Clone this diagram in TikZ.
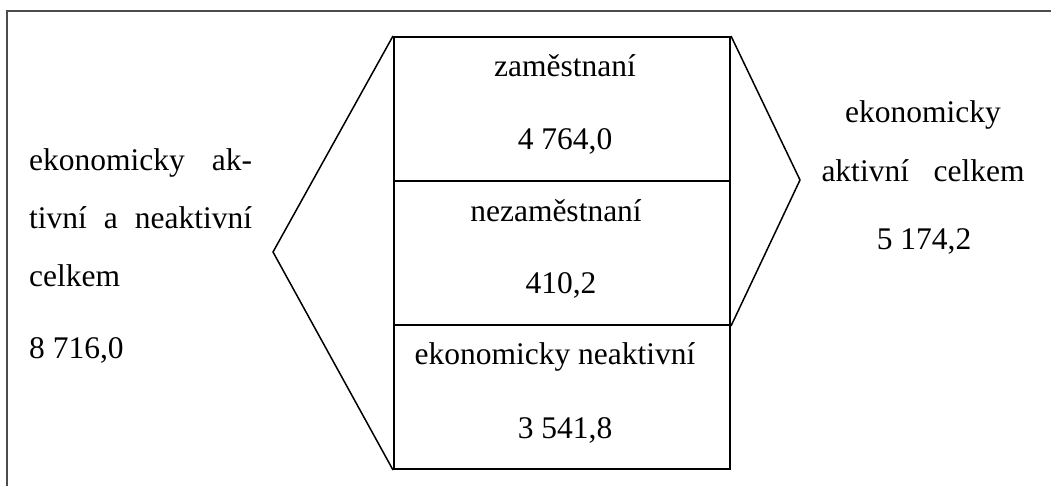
\documentclass[tikz,border=0pt]{standalone}
\usepackage{fontspec}
\setmainfont{Liberation Serif}
\begin{document}
\begin{tikzpicture}[x=1pt, y=-1pt,
		every node/.style={font=\fontsize{31.5}{38}\selectfont, inner sep=0pt},
		rowbox/.style={draw, line width=2pt, minimum width=336pt, minimum height=144pt, anchor=north west}]
			\useasboundingbox (0,0) rectangle (1051,486);
			\draw[line width=1.5pt, black!70] (1051,11) -- (7,11) -- (7,486);
			\foreach \name/\y in {zam/36, nez/180, neakt/324} \node[rowbox] (\name) at (393,\y) {};
			\node[anchor=base] (zamtxt) at (565,77) {zaměstnaní};
			\node[anchor=base] (zamval) at (565,150) {4 764,0};
			\node[anchor=base] (neztxt) at (556,222) {nezaměstnaní};
			\node[anchor=base] (nezval) at (561,293) {410,2};
			\node[anchor=base] (neakttxt) at (555,364) {ekonomicky neaktivní};
			\node[anchor=base] (neaktval) at (565,438) {3 541,8};
			\coordinate (lapex) at (273,252);
			\coordinate (rapex) at (800,180);
			\draw[line width=1.5pt] (zam.north west) -- (lapex) -- (neakt.south west);
			\draw[line width=1.5pt] (zam.north east) -- (rapex) -- (nez.south east);
			\node[anchor=base west] (celk1) at (29,171) {\makebox[223pt][s]{ekonomicky ak-}};
			\node[anchor=base west] (celk2) at (29,229) {\makebox[223pt][s]{tivní a neaktivní}};
			\node[anchor=base west] (celk3) at (29,286) {celkem};
			\node[anchor=base west] (celkval) at (29,358) {8 716,0};
			\node[anchor=base] (akt1) at (923,123) {ekonomicky};
			\node[anchor=base] (akt2) at (923,182) {\makebox[203pt][s]{aktivní celkem}};
			\node[anchor=base] (aktval) at (924,250) {5 174,2};
		\end{tikzpicture}
\end{document}
